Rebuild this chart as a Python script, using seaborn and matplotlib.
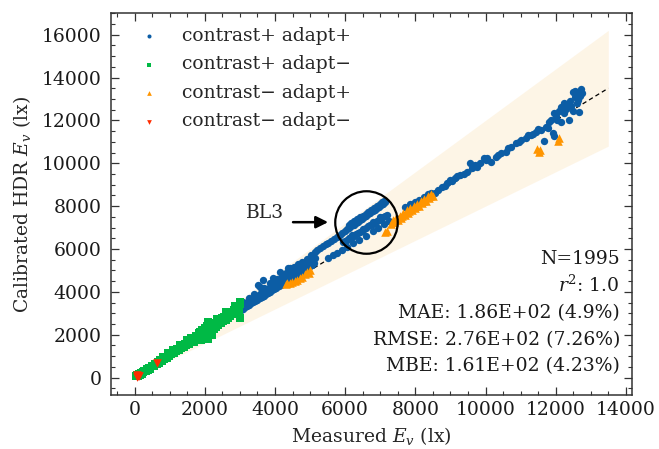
import matplotlib
matplotlib.use("Agg")
import matplotlib.pyplot as plt
import seaborn as sns
import numpy as np
from matplotlib.ticker import MultipleLocator

# ---- measured vs. calibrated illuminance (lx), one list of (x, y) pairs per group ----
blue_pts = [
    # dense band 3000-5200 lx
    (3020, 3150), (3080, 3210), (3140, 3280), (3200, 3340), (3260, 3400), (3320, 3460),
    (3380, 3520), (3440, 3580), (3500, 3640), (3560, 3700), (3620, 3760), (3680, 3830),
    (3740, 3890), (3800, 3950), (3860, 4010), (3920, 4070), (3980, 4130), (4040, 4190),
    (4100, 4260), (4160, 4320), (4220, 4380), (4280, 4450), (4340, 4510), (4400, 4570),
    (4460, 4640), (4520, 4700), (4580, 4760), (4640, 4830), (4700, 4890), (4760, 4950),
    (4820, 5020), (4880, 5080), (4940, 5150), (5000, 5210), (5060, 5270), (5120, 5340),
    (3050, 3350), (3110, 3420), (3170, 3480), (3230, 3540), (3290, 3610), (3350, 3670),
    (3410, 3730), (3470, 3800), (3530, 3860), (3590, 3930), (3650, 3990), (3710, 4050),
    (3770, 4120), (3830, 4180), (3890, 4240), (3950, 4310), (4010, 4370), (4070, 4430),
    (4130, 4500), (4190, 4560), (4250, 4630), (4310, 4690), (4370, 4750), (4430, 4820),
    (4490, 4880), (4550, 4940), (4610, 5010), (4670, 5070), (4730, 5130), (4790, 5200),
    (4850, 5260), (4910, 5320), (4970, 5390), (5030, 5450), (5090, 5520), (5150, 5580),
    (3100, 3550), (3250, 3700), (3400, 3900), (3560, 4250), (3620, 4100), (3700, 4200),
    (3850, 4400), (3950, 4450), (4050, 4600), (4200, 4750), (4320, 4880), (4430, 5100),
    (4550, 5150), (4650, 5300), (4780, 5400), (4900, 5550), (5020, 5700), (5150, 5850),
    (3514, 4300), (3657, 4540), (3943, 4630), (4143, 4910), (4371, 5100),
    # BL3: upper strand
    (5200, 5950), (5280, 6030), (5360, 6120), (5440, 6210), (5520, 6300), (5600, 6390),
    (5680, 6480), (5760, 6570), (5840, 6660), (5920, 6750), (6000, 6850), (6060, 6920),
    (6120, 6990), (6180, 7060), (6240, 7130), (6300, 7200), (6360, 7270), (6420, 7340),
    (6480, 7410), (6540, 7480), (6600, 7550), (6660, 7620), (6720, 7690), (6780, 7760),
    (6840, 7830), (6900, 7900), (6960, 7970), (7020, 8040), (7080, 8110), (7140, 8180),
    (6100, 7100), (6180, 7190), (6260, 7290), (6340, 7380), (6420, 7470), (6500, 7560),
    (6580, 7650), (6660, 7740), (6740, 7830), (6820, 7920), (6900, 8010), (6980, 8100),
    (7060, 8190), (7120, 8260),
    # BL3: middle strand
    (5940, 6315), (6000, 6380), (6060, 6440), (6120, 6500), (6180, 6560), (6240, 6620),
    (6300, 6680), (6360, 6740), (6420, 6800), (6480, 6860), (6540, 6920), (6600, 6980),
    (6660, 7050), (6720, 7110), (6780, 7170), (6840, 7230), (6900, 7290), (6960, 7360),
    (7020, 7420), (7080, 7480), (7140, 7540), (7200, 7600),
    (6200, 6650), (6500, 6950), (6800, 7270), (7000, 7470),
    # near the identity line
    (5500, 5560), (5650, 5700), (5770, 5800), (5900, 5950), (6050, 6100), (6230, 6270),
    (6400, 6420), (6600, 6620), (6800, 6820), (6950, 6980), (7100, 7150), (7250, 7300),
    # 7700-12000 lx
    (7700, 7950), (7850, 8100), (8000, 8200), (8100, 8300), (8250, 8420), (8350, 8550),
    (8450, 8600), (8571, 8608), (8771, 8888), (8914, 9075), (9000, 9216), (9143, 9310),
    (9286, 9450), (9486, 9590), (9629, 9777), (9771, 9824), (9857, 10011), (10000, 10151),
    (10143, 10058), (10286, 10292), (10429, 10479), (10571, 10526), (10714, 10760),
    (10857, 10947), (11000, 11087), (11143, 11180), (11286, 11320), (11429, 11461),
    (11571, 11554), (11714, 11695), (11800, 11929), (9571, 10011), (9943, 10245),
    (11657, 11040), (11943, 11274), (8650, 8750), (8850, 8950), (9050, 9150), (9200, 9420),
    (9400, 9500), (9700, 9900), (10050, 10250), (10350, 10400), (10650, 10700),
    (10950, 11000), (11200, 11300), (11350, 11380), (11500, 11620),
    # 11800-12800 lx
    (11857, 12022), (11943, 12350), (12000, 12200), (12143, 12630), (12100, 12450),
    (12229, 12350), (12343, 12724), (12300, 12550), (12400, 12900), (12486, 13332),
    (12550, 13100), (12629, 12958), (12714, 13472), (12650, 13250), (12700, 13150),
    (12600, 12800), (12450, 12650), (12371, 12022), (12143, 11929), (11914, 11414),
    (11771, 11648), (12657, 12397), (12500, 12450), (12050, 12000), (12250, 12800),
    (12550, 13350), (12750, 13300),
]

green_pts = [
    (40, 60), (60, 110), (90, 80), (120, 150), (150, 120), (180, 210), (210, 190),
    (250, 240), (280, 320), (310, 290), (350, 380), (380, 350), (420, 460), (450, 420),
    (490, 520), (520, 560), (560, 540), (590, 650), (630, 620), (660, 720), (700, 690),
    (730, 800), (770, 760), (800, 880), (840, 850), (870, 950), (910, 920), (940, 1040),
    (980, 1000), (1010, 1110), (1050, 1080), (1080, 1190), (1120, 1150), (1150, 1260),
    (1190, 1230), (1220, 1330), (1260, 1290), (1290, 1410), (1330, 1370), (1360, 1480),
    (1400, 1440), (1430, 1560), (1470, 1510), (1500, 1620), (1540, 1580), (1570, 1700),
    (1610, 1650), (1640, 1760), (1680, 1700), (1700, 1860), (1730, 1780), (1760, 1950),
    (1790, 1840), (1820, 2060), (1840, 1900), (1860, 2150), (1880, 1760), (1900, 2000),
    (1930, 2230), (1950, 1850), (1970, 2100), (2000, 2300), (2020, 1950), (2040, 2200),
    (2070, 2400), (2090, 1800), (2110, 2150), (2140, 2450), (2160, 2050), (2190, 2300),
    (2220, 2500), (2250, 2250), (2280, 2550), (2310, 2350), (2340, 2600), (2380, 2450),
    (2410, 2700), (2450, 2550), (2480, 2760), (2520, 2620), (2550, 2850), (2590, 2700),
    (2620, 2920), (2660, 2780), (2690, 3000), (2730, 2860), (2760, 3080), (2800, 2950),
    (2830, 3150), (2860, 3000), (2890, 3250), (2920, 3080), (2950, 3350), (2970, 3150),
    (2990, 3450), (3000, 2800), (2980, 2950), (3000, 3550),
    (1100, 1300), (1300, 1500), (1500, 1750), (1700, 1650), (2100, 2600), (2350, 2750),
    (2600, 3050), (2850, 3350), (800, 950), (950, 1150), (2200, 2000), (1600, 1850),
]

orange_pts = [
    (4300, 4360), (4343, 4397), (4420, 4420), (4486, 4444), (4560, 4520), (4629, 4538),
    (4700, 4640), (4771, 4678), (4850, 4820), (4914, 4912), (4960, 4900), (5000, 5005),
    (7143, 6783), (7200, 6850), (7371, 7251),
    (7300, 7150), (7350, 7350), (7400, 7250), (7450, 7450), (7500, 7350), (7550, 7550),
    (7600, 7450), (7650, 7680), (7700, 7580), (7750, 7800), (7800, 7700), (7850, 7900),
    (7900, 7800), (7950, 8020), (8000, 7920), (8050, 8120), (8100, 8020), (8150, 8250),
    (8200, 8150), (8250, 8350), (8300, 8250), (8350, 8450), (8400, 8380), (8450, 8550),
    (8500, 8480), (7420, 7330), (7620, 7560), (7820, 7780), (8020, 8010), (8220, 8250),
    (8420, 8460),
    (11480, 10680), (11520, 10540), (11560, 10600), (12060, 11050), (12100, 11200),
]

red_pts = [(60, 40), (85, 95), (110, 55), (70, 120), (630, 660)]

labels = ["contrast+ adapt+", "contrast+ adapt\u2212",
          "contrast\u2212 adapt+", "contrast\u2212 adapt\u2212"]
colors = ["#0C5DA5", "#00B945", "#FF9500", "#FF2C00"]
markers = ["o", "s", "^", "v"]
sizes = [28, 30, 38, 38]

ref_range = [0, 13500]      # identity line / +-20 % band extent
band_frac = 0.20

stats_lines = ["N=1995", "$r^2$: 1.0", "MAE: 1.86E+02 (4.9%)",
               "RMSE: 2.76E+02 (7.26%)", "MBE: 1.61E+02 (4.23%)"]

FS = 13.5

# ---- style ----
sns.set_style("ticks")
plt.rcParams.update({
    "font.family": ["DejaVu Serif"],
    "mathtext.fontset": "dejavuserif",
    "font.size": FS,
    "axes.edgecolor": "#333333",
    "axes.linewidth": 1.1,
    "xtick.direction": "in", "ytick.direction": "in",
    "xtick.top": True, "ytick.right": True,
    "xtick.major.size": 5.5, "ytick.major.size": 5.5,
    "xtick.minor.size": 3, "ytick.minor.size": 3,
    "xtick.major.width": 0.9, "ytick.major.width": 0.9,
    "xtick.minor.width": 0.8, "ytick.minor.width": 0.8,
    "xtick.color": "#333333", "ytick.color": "#333333",
    "xtick.labelcolor": "#1a1a1a", "ytick.labelcolor": "#1a1a1a",
    "xtick.labelsize": FS, "ytick.labelsize": FS,
})

fig = plt.figure(figsize=(6.59, 4.49), dpi=100)
ax = fig.add_axes([0.1684, 0.1203, 0.7906, 0.8508])

# +-20 % band and identity line
rx = np.array(ref_range, dtype=float)
ax.fill_between(rx, rx * (1 - band_frac), rx * (1 + band_frac),
                color="#F5A623", alpha=0.11, linewidth=0, zorder=0)
sns.lineplot(x=rx, y=rx, ax=ax, color="k", linestyle=(0, (3.5, 2.5)),
             linewidth=0.9, zorder=1)

groups = [blue_pts, green_pts, orange_pts, red_pts]
for pts, lab, col, mk, sz in zip(groups, labels, colors, markers, sizes):
    gx = [p[0] for p in pts]
    gy = [p[1] for p in pts]
    sns.scatterplot(x=gx, y=gy, ax=ax, marker=mk, color=col, s=sz,
                    linewidth=0, label=lab, zorder=2)

ax.legend(loc="upper left", bbox_to_anchor=(0.032, 0.983), borderaxespad=0,
          frameon=False, handlelength=1.5, handletextpad=1.0, markerscale=0.55,
          labelspacing=0.56, fontsize=FS)

# highlight of the BL3 branch
bl3_center = (6600, 7251)
ax.plot([bl3_center[0]], [bl3_center[1]], marker="o", markersize=45,
        markerfacecolor="none", markeredgecolor="k", markeredgewidth=1.6, zorder=3)
ax.annotate("", xy=(5514, 7251), xytext=(4514, 7251),
            arrowprops=dict(arrowstyle="-|>", color="k", lw=1.8, mutation_scale=18,
                            shrinkA=0, shrinkB=0))
ax.text(3714, 7673, "BL3", ha="center", va="center", fontsize=FS)

# summary statistics
for txt, yy in zip(stats_lines, [0.343, 0.270, 0.202, 0.131, 0.063]):
    ax.text(0.977, yy, txt, transform=ax.transAxes, ha="right", va="baseline",
            fontsize=FS, color="#1a1a1a")

ax.set_xlim(-675, 14175)
ax.set_ylim(-810, 17010)
ax.xaxis.set_major_locator(MultipleLocator(2000))
ax.yaxis.set_major_locator(MultipleLocator(2000))
ax.xaxis.set_minor_locator(MultipleLocator(500))
ax.yaxis.set_minor_locator(MultipleLocator(500))
ax.tick_params(axis="x", which="both", pad=4.5)
ax.tick_params(axis="y", which="both", pad=7)

ax.set_xlabel("Measured $E_v$ (lx)", fontsize=FS, labelpad=4)
ax.set_ylabel("Calibrated HDR $E_v$ (lx)", fontsize=FS, labelpad=6)

fig.savefig("out.png", dpi=100)
